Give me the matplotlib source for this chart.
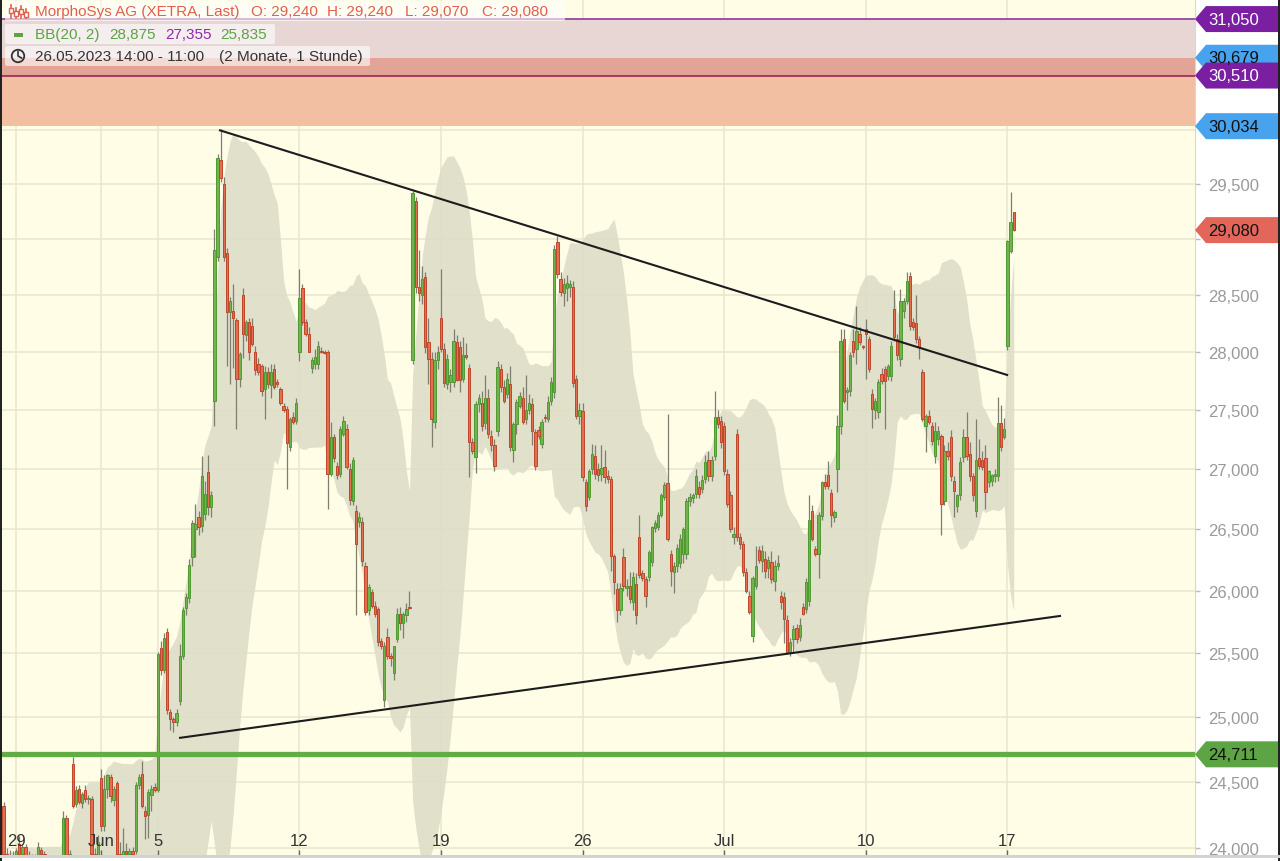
import numpy as np
import pandas as pd
import matplotlib
matplotlib.use("Agg")
import matplotlib.pyplot as plt
import matplotlib.patches as mpatches
from matplotlib.lines import Line2D
from matplotlib.ticker import FixedLocator, NullLocator
from matplotlib.transforms import blended_transform_factory

plt.rcParams['font.family'] = ['Liberation Sans', 'DejaVu Sans']

# MorphoSys AG, hourly bars 26.05.2023 14:00 - 17.07.2023 11:00 (one line per trading day)
opens = [
    24320, 23960, 23940, 23930,
    23920, 24030, 23960, 24010, 23950, 23930, 23920, 23950, 23990,
    23960, 23900, 23880, 23900, 23880, 23870, 23950, 24230, 23950,
    24640, 24330, 24450, 24340, 24440, 24370, 24370, 23960, 23950,
    24530, 24170, 24450, 24540, 24360, 24490, 23960, 23950, 23980,
    23960, 23980, 23980, 24480, 24560, 24280, 24250, 24400, 24460,
    24440, 25540, 25370, 25670, 25040, 24980, 24960, 25120, 25480,
    25860, 25940, 26270, 26500, 26600, 26530, 26630, 26975, 26680,
    27580, 28840, 29720, 29500, 28870, 28350, 28360, 28280, 27770,
    28500, 28150, 28260, 28230, 28000, 27900, 27880, 27680, 27830,
    27715, 27850, 27740, 27680, 27530, 27510, 27190, 27440, 27410,
    28000, 28560, 28260, 28160, 27860, 27900, 27900, 28010, 28000,
    28000, 26960, 27270, 27030, 26960, 27300, 27340, 27000, 26730,
    26650, 26560, 26560, 26200, 25840, 25990, 25880, 25850, 25600,
    25130, 25630, 25480, 25340, 25610, 25810, 25740, 25800, 25870,
    27930, 29340, 28570, 28500, 28660, 28090, 27940, 27400, 27930,
    28300, 28030, 27720, 27740, 27740, 28090, 28040, 27770, 27970,
    27860, 27230, 27100, 27550, 27560, 27390, 27600, 27280, 27200,
    27320, 27850, 27700, 27640, 27720, 27160, 27380, 27535, 27600,
    27420, 27500, 27550, 27310, 27330, 27210, 27440, 27420, 27580,
    27650, 28970, 28640, 28520, 28560, 28570, 28570, 27770, 27450,
    27490, 26890, 26770, 27000, 27110, 27000, 26960, 27020, 26940,
    26920, 26280, 26010, 25840, 26270, 26020, 26040, 25910, 26050,
    26440, 26140, 26090, 26110, 26230, 26510, 26520, 26620, 26770,
    26880, 26300, 26150, 26200, 26220, 26300, 26300, 26730, 26760,
    26790, 26850, 26830, 26920, 27080, 26940, 27110, 27440, 27410,
    27360, 26960, 26780, 26440, 27300, 26440, 26380, 26150, 25960,
    25640, 26040, 26330, 26240, 26260, 26180, 26230, 26080, 26200,
    25960, 25950, 25760, 25510, 25610, 25700, 25630, 25870, 25850,
    25920, 26650, 26340, 26300, 26610, 26890, 26950, 26800, 26600,
    27000, 27360, 28110, 27650, 27660, 28100, 28030, 28160, 28050,
    28200, 28110, 27640, 27500, 27480, 27810, 27850, 27790, 27790,
    28380, 28110, 27940, 28360, 28450, 28670, 28260, 28250, 28110,
    27830, 27360, 27450, 27360, 27110, 27250, 27280, 26730, 27150,
    27270, 26900, 26690, 26780, 27100, 27270, 27130, 26940, 26650,
    27090, 27080, 27090, 26890, 26900, 26940, 26940, 27390, 27270,
    28050, 28890, 29240,
]
highs = [
    24350, 24000, 23990, 23980,
    24000, 24090, 24030, 24030, 23980, 23960, 23960, 24050, 24010,
    23980, 23930, 23920, 23930, 23910, 23940, 24280, 24250, 23990,
    24690, 24470, 24480, 24420, 24480, 24400, 24390, 24000, 24100,
    24600, 24550, 24560, 24560, 24470, 24510, 24050, 24150, 24040,
    24000, 24010, 24500, 24560, 24660, 24320, 24450, 24480, 24490,
    25510, 25600, 25660, 25700, 25060, 25000, 25060, 25570, 25870,
    25980, 26260, 26580, 26710, 26650, 27110, 26900, 27120, 26820,
    29090, 29780, 30010, 29560, 28920, 28480, 28600, 28300, 28000,
    28560, 28280, 28300, 28300, 28050, 27950, 27900, 27880, 27870,
    27900, 27900, 27770, 27700, 27560, 27530, 27440, 27480, 27600,
    28730, 28600, 28290, 28220, 27960, 28030, 28100, 28040, 28020,
    28020, 27400, 27300, 27060, 27360, 27450, 27380, 27050, 27100,
    26700, 26640, 26600, 26230, 26050, 26010, 25920, 25870, 25620,
    25590, 25700, 25500, 25560, 25860, 25870, 25830, 25900, 26000,
    29440, 29380, 28900, 28760, 28700, 28300, 28000, 28000, 28050,
    28730, 28080, 27980, 27850, 28200, 28150, 28100, 28130, 28080,
    27900, 27260, 27580, 27640, 27660, 27800, 27680, 27330, 27250,
    27920, 27900, 27760, 27820, 27880, 27400, 27590, 27650, 27700,
    27800, 27640, 27600, 27340, 27360, 27420, 27470, 27620, 27780,
    28950, 29030, 28700, 28650, 28680, 28630, 28620, 27800, 27560,
    27560, 26920, 27000, 27210, 27200, 27050, 27200, 27160, 26990,
    26940, 26300, 26060, 26060, 26350, 26090, 26150, 26150, 26140,
    26620, 26170, 26120, 26330, 26530, 26580, 26640, 26800, 26890,
    27470, 26330, 26230, 26380, 26460, 26520, 26760, 26800, 26800,
    27000, 26900, 26950, 27120, 27150, 27110, 27660, 27500, 27450,
    27400, 27000, 26820, 26520, 27340, 26470, 26400, 26180, 26000,
    26120, 26360, 26360, 26370, 26320, 26280, 26320, 26250, 26290,
    26000, 25990, 25800, 25620, 25720, 25730, 25780, 25900, 26100,
    26780, 26700, 26360, 26640, 26900, 26960, 27070, 26830, 26660,
    27460, 28200, 28200, 27700, 28000, 28200, 28400, 28220, 28060,
    28290, 28140, 27680, 27600, 27770, 27860, 27880, 27900, 28100,
    28540, 28160, 28550, 28470, 28700, 28700, 28300, 28500, 28140,
    27850, 27470, 27500, 27400, 27400, 27360, 27300, 27200, 27230,
    27330, 26940, 26790, 27100, 27340, 27480, 27230, 26970, 27420,
    27250, 27150, 27200, 26990, 26960, 27000, 27610, 27540, 27430,
    28990, 29430, 29240,
]
lows = [
    23940, 23900, 23880, 23880,
    23900, 23950, 23920, 23930, 23900, 23890, 23880, 23930, 23940,
    23880, 23850, 23840, 23860, 23830, 23860, 23940, 23930, 23900,
    24300, 24310, 24330, 24300, 24350, 24330, 23930, 23900, 23920,
    24130, 24130, 24380, 24350, 24320, 23940, 23900, 23920, 23930,
    23930, 23940, 23960, 24450, 24300, 24070, 24080, 24280, 24420,
    24420, 25330, 25340, 25020, 24900, 24880, 24930, 25090, 25450,
    25800, 25900, 26200, 26270, 26450, 26480, 26580, 26620, 26600,
    27360, 28800, 29520, 28800, 27880, 27720, 27860, 27340, 27700,
    27950, 28100, 27930, 28050, 27800, 27800, 27620, 27420, 27690,
    27600, 27680, 27700, 27540, 27480, 26830, 27150, 27380, 27380,
    27920, 28240, 28140, 28000, 27820, 27850, 27850, 27990, 27980,
    26670, 26940, 27060, 26920, 26930, 27280, 27000, 26700, 26700,
    25800, 26520, 26200, 25800, 25800, 25860, 25790, 25560, 25530,
    25080, 25450, 25400, 25290, 25590, 25680, 25620, 25750, 25850,
    27900, 28520, 28450, 28420, 27990, 27720, 27190, 27350, 27850,
    28000, 27700, 27680, 27650, 27700, 27750, 27650, 27740, 27940,
    26930, 27130, 26970, 27480, 27320, 27340, 27260, 27150, 26980,
    27280, 27650, 27560, 27600, 27150, 27060, 27300, 27520, 27380,
    27380, 27470, 27200, 26990, 27250, 27180, 27400, 27400, 27540,
    27600, 28650, 28490, 28400, 28450, 28480, 27700, 27420, 27380,
    26900, 26650, 26740, 26960, 26920, 26900, 26900, 26880, 26880,
    26160, 25970, 25750, 25800, 26000, 25960, 25900, 25840, 25730,
    26100, 26080, 25870, 26080, 26200, 26480, 26490, 26600, 26740,
    26400, 26040, 25980, 26150, 26180, 26220, 26260, 26690, 26720,
    26760, 26760, 26800, 26880, 26900, 26900, 27080, 27350, 27180,
    26950, 26680, 26480, 26380, 26400, 26340, 26120, 25980, 25810,
    25590, 26010, 26220, 26150, 26100, 26100, 26060, 26000, 26170,
    25850, 25580, 25500, 25480, 25500, 25580, 25600, 25800, 25820,
    25880, 26400, 26280, 26100, 26580, 26830, 26830, 26520, 26560,
    26810, 27300, 27560, 27500, 27620, 27960, 27900, 28060, 28030,
    27770, 27830, 27350, 27420, 27430, 27720, 27340, 27760, 27750,
    28100, 27930, 27880, 28300, 28420, 28190, 28190, 28080, 27940,
    27410, 27140, 27380, 27200, 27050, 27200, 26450, 26700, 27080,
    26900, 26600, 26640, 26740, 27060, 27080, 26900, 26730, 26600,
    27000, 26990, 26670, 26850, 26860, 26890, 26900, 27150, 27250,
    28020, 28870, 29070,
]
closes = [
    23960, 23940, 23930, 23920,
    23980, 23960, 24010, 23950, 23930, 23920, 23940, 24010, 23960,
    23900, 23880, 23900, 23880, 23870, 23920, 24230, 23950, 23960,
    24320, 24440, 24350, 24410, 24370, 24380, 23960, 23950, 24050,
    24170, 24450, 24550, 24390, 24450, 23960, 23950, 23980, 23960,
    23980, 23960, 24480, 24540, 24320, 24240, 24420, 24450, 24440,
    25490, 25370, 25620, 25050, 24980, 24960, 25030, 25480, 25840,
    25950, 26210, 26550, 26540, 26520, 26940, 26790, 26680, 26780,
    28900, 29740, 29550, 28840, 28350, 28450, 28300, 27770, 27980,
    28160, 28260, 28000, 28070, 27840, 27830, 27660, 27830, 27720,
    27830, 27700, 27720, 27560, 27500, 27220, 27420, 27400, 27560,
    28470, 28260, 28160, 28000, 27930, 27960, 28050, 28000, 27990,
    26960, 27270, 27090, 26950, 27340, 27410, 27020, 26740, 27080,
    26380, 26600, 26240, 25830, 26030, 25880, 25810, 25590, 25560,
    25560, 25480, 25460, 25560, 25810, 25740, 25810, 25850, 25860,
    29420, 28570, 28520, 28640, 28040, 27940, 27420, 27930, 28000,
    28030, 27730, 27940, 27800, 28100, 27760, 27760, 27970, 27960,
    27230, 27150, 27550, 27600, 27360, 27600, 27300, 27200, 27030,
    27870, 27700, 27580, 27770, 27190, 27380, 27570, 27620, 27400,
    27500, 27560, 27320, 27030, 27280, 27400, 27430, 27570, 27740,
    28910, 28690, 28530, 28600, 28610, 28600, 27730, 27450, 27500,
    26930, 26690, 26980, 27130, 26960, 26950, 27010, 26930, 26920,
    26280, 26070, 25840, 26020, 26040, 26040, 25930, 26110, 25800,
    26130, 26100, 25960, 26310, 26520, 26550, 26620, 26780, 26870,
    26420, 26160, 26200, 26350, 26420, 26500, 26730, 26770, 26780,
    26940, 26790, 26910, 27060, 26940, 27080, 27440, 27380, 27230,
    26980, 26710, 26500, 26460, 26440, 26380, 26150, 26000, 25830,
    26100, 26200, 26250, 26320, 26160, 26250, 26090, 26200, 26220,
    25910, 25770, 25510, 25590, 25690, 25610, 25720, 25810, 26070,
    26580, 26420, 26300, 26620, 26890, 26860, 26860, 26620, 26640,
    27360, 28100, 27580, 27670, 27970, 28000, 28180, 28090, 28040,
    28160, 27850, 27510, 27580, 27740, 27750, 27750, 27880, 28050,
    28130, 27970, 28450, 28450, 28620, 28230, 28220, 28110, 28040,
    27420, 27450, 27400, 27240, 27320, 27320, 26710, 27150, 27110,
    26940, 26820, 26780, 27060, 27270, 27110, 26940, 26780, 27080,
    27030, 27020, 26810, 26980, 26950, 26960, 27390, 27190, 27340,
    28980, 29150, 29080,
]

day_labels = ['29', 'Jun', '5', '12', '19', '26', 'Jul', '10', '17']
day_bars = [4, 31, 49, 94, 139, 184, 229, 274, 319]
price_ticks = [24000, 24500, 25000, 25500, 26000, 26500, 27000, 27500, 28000, 28500, 29000, 29500]
grid_levels = price_ticks + [30000, 30500, 31000]

zone_a = (30510, 31050)
zone_b = (30034, 30679)
zone_lines = [31050, 30510]
support = 24711
trend_upper_x, trend_upper_y = [68.8, 318.9], [29995, 27801]
trend_lower_x, trend_lower_y = [56.1, 335.7], [24838, 25796]

tags = [
    (31050, '31,050', '#7B1FA2', 'white'),
    (30679, '30,679', '#47A3EE', '#111111'),
    (30510, '30,510', '#7B1FA2', 'white'),
    (30034, '30,034', '#47A3EE', '#111111'),
    (29080, '29,080', '#E2665A', '#111111'),
    (24711, '24,711', '#5CA444', '#111111'),
]

bb_period, bb_mult = 20, 2

# ---------------------------------------------------------------
W, H = 1280, 862
fig = plt.figure(figsize=(W / 100, H / 100), dpi=100)
fig.patch.set_facecolor('white')
ax = fig.add_axes([2 / W, 5 / H, 1193 / W, 857 / H])
ax.set_facecolor('#FFFDE6')
ax.set_yscale('log')
ax.set_ylim(23943, 31244)
ax.set_xlim(-0.48, 378.6)

o = np.array(opens, float)
c = np.array(closes, float)
hi = np.maximum(np.array(highs, float), np.maximum(o, c))
lo = np.minimum(np.array(lows, float), np.minimum(o, c))
x = np.arange(len(c))

# Bollinger band
s = pd.Series(c)
mid = s.rolling(bb_period, min_periods=1).mean()
sd = s.rolling(bb_period, min_periods=1).std(ddof=0)
upper = (mid + bb_mult * sd).values
lower = (mid - bb_mult * sd).values

# grid
for lv in grid_levels:
    ax.axhline(lv, color='#E8E6CF', lw=1.1, zorder=0.5)
for b in day_bars:
    ax.axvline(b, color='#E8E6CF', lw=1.1, zorder=0.5)

ax.fill_between(x, lower, upper, color='#DEDDC8', alpha=0.9, lw=0, zorder=1)

# resistance zones
ax.axhspan(zone_a[0], zone_a[1], color='#E8D6D5', lw=0, zorder=2)
ax.axhspan(zone_b[0], zone_b[1], color='#F3BFA3', lw=0, zorder=2)
ax.axhspan(max(zone_a[0], zone_b[0]), min(zone_a[1], zone_b[1]), color='#E2A595', lw=0, zorder=2.1)
ax.axhline(zone_lines[0], color='#94489A', lw=1.3, zorder=2.2)
ax.axhline(zone_lines[1], color='#9E2F5C', lw=1.3, zorder=2.2)

# candles
up = c >= o
ax.vlines(x, lo, hi, color='#7E7E70', lw=0.9, zorder=3)
ax.bar(x[up], (c - o)[up], bottom=o[up], width=0.74, color='#72B24F',
       edgecolor='#4E9A30', lw=0.7, zorder=4)
ax.bar(x[~up], (o - c)[~up], bottom=c[~up], width=0.74, color='#E2704F',
       edgecolor='#C0462B', lw=0.7, zorder=4)

# trend lines and support
ax.plot(trend_upper_x, trend_upper_y, color='#1C1C1C', lw=1.5, zorder=6)
ax.plot(trend_lower_x, trend_lower_y, color='#1C1C1C', lw=1.5, zorder=6)
ax.axhline(support, color='#62AC46', lw=3.8, zorder=7)

# axes styling
for sp in ['top', 'left', 'bottom']:
    ax.spines[sp].set_visible(False)
ax.spines['right'].set_color('#DAD9C6')
ax.yaxis.tick_right()
ax.yaxis.set_major_locator(FixedLocator(price_ticks))
ax.yaxis.set_minor_locator(NullLocator())
# 29,000 sits under the last-price tag
ax.set_yticklabels(['' if p == 29000 else f'{p:,}' for p in price_ticks])
ax.tick_params(axis='y', which='both', direction='out', length=3.6, width=1,
               color='#BBBBBB', labelcolor='#9A9A9A', labelsize=12, pad=6)
ax.set_xticks(day_bars)
ax.xaxis.set_minor_locator(NullLocator())
ax.tick_params(axis='x', direction='in', length=4, width=1, color='#666666',
               labelbottom=False)
trans = blended_transform_factory(ax.transData, ax.transAxes)
for b, lab in zip(day_bars, day_labels):
    ax.text(b, 15 / 857, lab, transform=trans, ha='center', va='center',
            fontsize=12, color='#333333', zorder=8)


def P(px, py):
    return (px / W, 1 - py / H)


# price tags on the right axis
for price, lab, bg, fg in tags:
    yp = ax.transData.transform((0, price))[1]
    yi = H - yp
    verts = [P(1195, yi), P(1206, yi - 13), P(1280, yi - 13), P(1280, yi + 13), P(1206, yi + 13)]
    fig.add_artist(mpatches.Polygon(verts, closed=True, transform=fig.transFigure,
                                    fc=bg, ec='none', zorder=5))
    tx, ty = P(1208, yi)
    fig.text(tx, ty, lab, ha='left', va='center', fontsize=12, color=fg, zorder=6)

# frame edges
fig.add_artist(mpatches.Rectangle(P(0, 862), 2 / W, 1, transform=fig.transFigure,
                                  fc='#222222', ec='none', zorder=9))
fig.add_artist(mpatches.Rectangle(P(1278, 862), 2 / W, 1, transform=fig.transFigure,
                                  fc='#222222', ec='none', zorder=9))
fig.add_artist(mpatches.Rectangle(P(0, 859), 1, 3 / H, transform=fig.transFigure,
                                  fc='#D2D2D2', ec='none', zorder=9))

# legend rows (top left)
rows = [(5, 2, 560, 20), (5, 25, 270, 20), (5, 47, 365, 20)]
for rx, ry, rw, rh in rows:
    fig.add_artist(mpatches.FancyBboxPatch(P(rx, ry + rh), rw / W, rh / H,
                                           boxstyle='round,pad=0,rounding_size=0.002',
                                           transform=fig.transFigure, fc='white',
                                           ec='none', alpha=0.6, zorder=4))

red_txt = '#E0604A'
for ix, y0, y1 in [(11, 6, 19), (16, 9, 19), (21, 7, 19), (26, 10, 19)]:
    fig.add_artist(Line2D([ix / W, ix / W], [1 - y0 / H, 1 - y1 / H],
                          transform=fig.transFigure, color=red_txt, lw=1.2, zorder=6))
    fig.add_artist(mpatches.Rectangle(P(ix - 1.8, y0 + 8), 3.6 / W, 5 / H,
                                      transform=fig.transFigure, fc='white',
                                      ec=red_txt, lw=1, zorder=6))
for px, lab in [(35, 'MorphoSys AG (XETRA, Last)'), (251, 'O: 29,240'),
                (327, 'H: 29,240'), (405, 'L: 29,070'), (482, 'C: 29,080')]:
    tx, ty = P(px, 12)
    fig.text(tx, ty, lab, ha='left', va='center', fontsize=11, color=red_txt, zorder=6)

fig.add_artist(mpatches.Rectangle(P(14, 37.5), 9 / W, 3.5 / H, transform=fig.transFigure,
                                  fc='#5CA444', ec='none', zorder=6))
bb_green, bb_purple = '#5CA444', '#8E2AA8'
for px, lab, col in [(35, 'BB(20, 2)', bb_green), (109, '28,875', bb_green),
                     (165, '27,355', bb_purple), (220, '25,835', bb_green)]:
    tx, ty = P(px, 35)
    fig.text(tx, ty, lab, ha='left', va='center', fontsize=11, color=col, zorder=6)

cx, cy = P(18, 57)
fig.add_artist(mpatches.Ellipse((cx, cy), 12.5 / W, 12.5 / H, transform=fig.transFigure,
                                fc='none', ec='#333333', lw=1.3, zorder=6))
fig.add_artist(Line2D([18 / W, 18 / W, 21.5 / W], [1 - 52.5 / H, 1 - 57 / H, 1 - 59 / H],
                      transform=fig.transFigure, color='#333333', lw=1.2, zorder=6))
tx, ty = P(35, 57)
fig.text(tx, ty, '26.05.2023 14:00 - 11:00', ha='left', va='center', fontsize=11,
         color='#333333', zorder=6)
tx, ty = P(219, 57)
fig.text(tx, ty, '(2 Monate, 1 Stunde)', ha='left', va='center', fontsize=11,
         color='#333333', zorder=6)

fig.savefig('out.png', dpi=100, facecolor=fig.get_facecolor())
